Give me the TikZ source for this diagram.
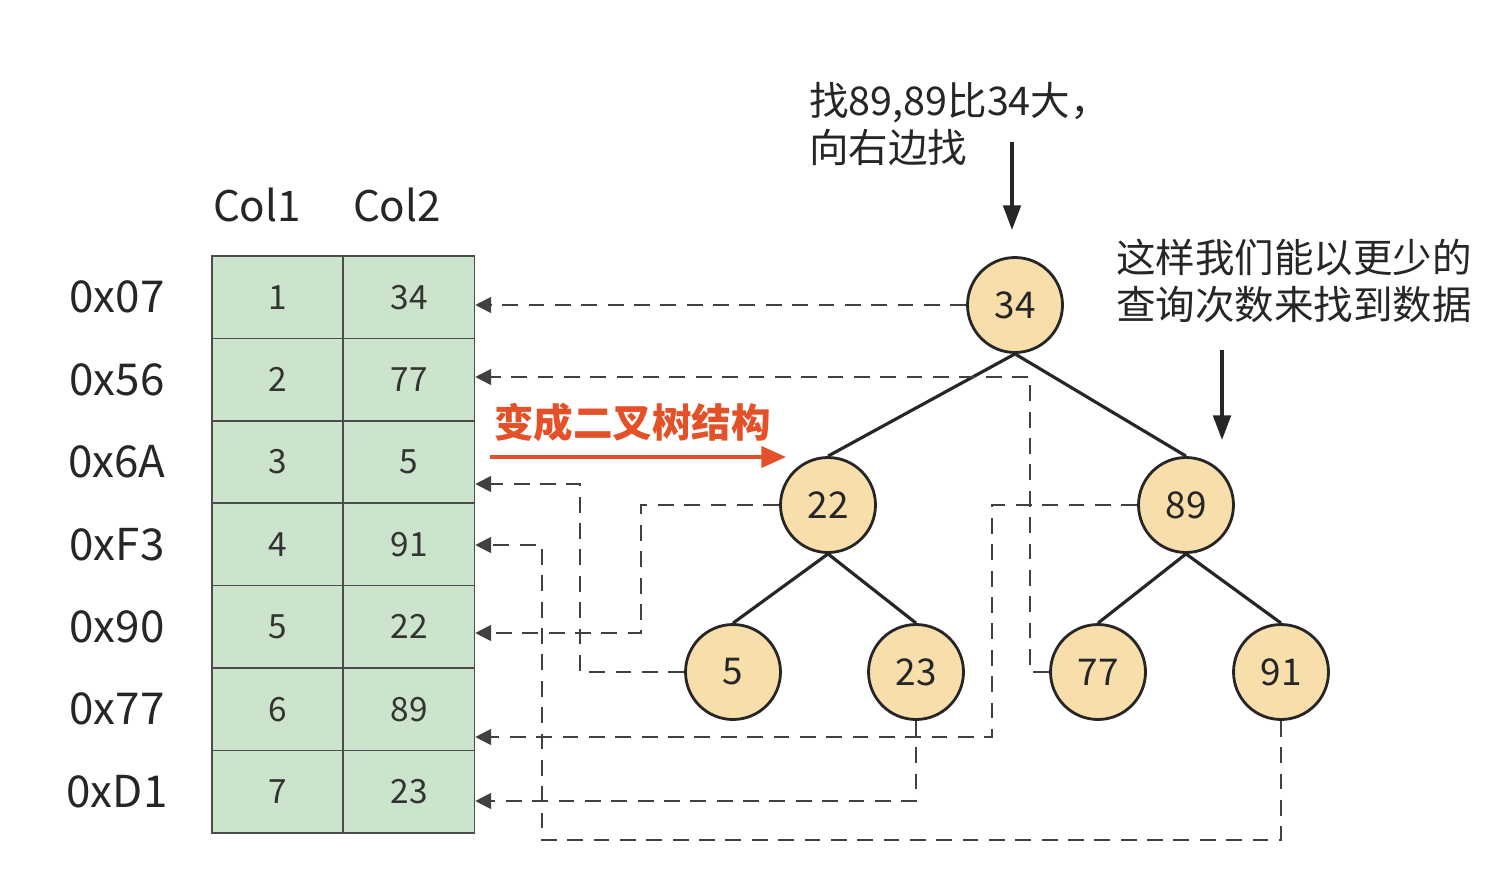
\documentclass[tikz,border=0pt]{standalone}
\usepackage{fontspec}
\setmainfont{Noto Sans CJK SC}
\usetikzlibrary{arrows.meta}
\definecolor{cellg}{RGB}{203,228,203}
\definecolor{nodeo}{RGB}{248,222,170}
\definecolor{redt}{RGB}{228,80,40}
\begin{document}
\begin{tikzpicture}[x=0.02cm,y=-0.02cm,
  cell/.style={draw=black!70,fill=cellg,line width=0.9pt,minimum width=2.62cm,minimum height=1.65cm,inner sep=0,font=\fontsize{19}{20}\selectfont,text=black!80},
  addr/.style={font=\fontsize{25}{27}\selectfont,text=black!85},
  tn/.style={circle,draw=black!85,fill=nodeo,line width=1.6pt,minimum size=1.9cm,inner sep=0,font=\fontsize{21}{22}\selectfont,text=black!85},
  edge/.style={line width=1.8pt,black!85},
  dl/.style={dashed,dash pattern=on 9pt off 6pt,black!75,line width=1.1pt},
  da/.style={dl,-{Triangle[length=9pt,width=9pt]}},
  note/.style={font=\fontsize{22.5}{27}\selectfont,text=black!85,align=left,anchor=west}]
\fill[white] (0,0) rectangle (1493,875);
\useasboundingbox (0,0) rectangle (1493,875);
\node[font=\fontsize{24}{26}\selectfont,text=black!85] (c1) at (257,205) {Col1};
\node[font=\fontsize{24}{26}\selectfont,text=black!85] (c2) at (397,205) {Col2};
\foreach \i/\a/\k/\v in {1/0x07/1/34,2/0x56/2/77,3/0x6A/3/5,4/0xF3/4/91,5/0x90/5/22,6/0x77/6/89,7/0xD1/7/23}{
  \node[cell] (k\i) at (277.5,{256+82.4*(\i-0.5)}) {\k};
  \node[cell] (v\i) at (409,{256+82.4*(\i-0.5)}) {\v};
  \node[addr] (a\i) at (117,{256+82.4*(\i-0.5)}) {\a};
}
\node[tn] (n34) at (1015,305) {34};
\node[tn] (n22) at (828,505) {22};
\node[tn] (n89) at (1186,505) {89};
\node[tn] (n5) at (733,672) {5};
\node[tn] (n23) at (916,672) {23};
\node[tn] (n77) at (1098,672) {77};
\node[tn] (n91) at (1281,672) {91};
\draw[edge] (n34.south) -- (n22.north);
\draw[edge] (n34.south) -- (n89.north);
\draw[edge] (n22.south) -- (n5.north);
\draw[edge] (n22.south) -- (n23.north);
\draw[edge] (n89.south) -- (n77.north);
\draw[edge] (n89.south) -- (n91.north);
% dashed mappings
\draw[da] (n34.west) -- (v1.east |- n34.west);
\draw[da] (n77.west) -- (1030,672) -- (1030,377) -- (v2.east |- 0,377);
\draw[da] (n5.west) -- (580,672) -- (580,484) -- (v3.east |- 0,484);
\draw[da] (n91.south) -- (1281,840) -- (542,840) -- (542,545) -- (v4.east |- 0,545);
\draw[da] (n22.west) -- (641,505) -- (641,633) -- (v5.east |- 0,633);
\draw[da] (n89.west) -- (992,505) -- (992,737) -- (v6.east |- 0,737);
\draw[da] (n23.south) -- (916,801) -- (v7.east |- 0,801);
% annotations
\node[note] (t1) at (803,124) {找89,89比34大，\\向右边找};
\node[note] (t2) at (1110,281) {这样我们能以更少的\\查询次数来找到数据};
\coordinate (p1) at (1012,142);
\coordinate (p2) at (1222,350);
\draw[line width=1.8pt,black!85,-{Triangle[length=14pt,width=10pt]}] (p1) -- (1012,230);
\draw[line width=1.8pt,black!85,-{Triangle[length=14pt,width=10pt]}] (p2) -- (1222,440);
\node[font=\bfseries\fontsize{22.5}{24}\selectfont,text=redt,anchor=west] (rt) at (488,422) {变成二叉树结构};
\coordinate (r1) at (490,457);
\coordinate (r2) at (786,457);
\draw[redt,line width=2pt,-{Triangle[length=14pt,width=12pt]}] (r1) -- (r2);
\end{tikzpicture}
\end{document}
